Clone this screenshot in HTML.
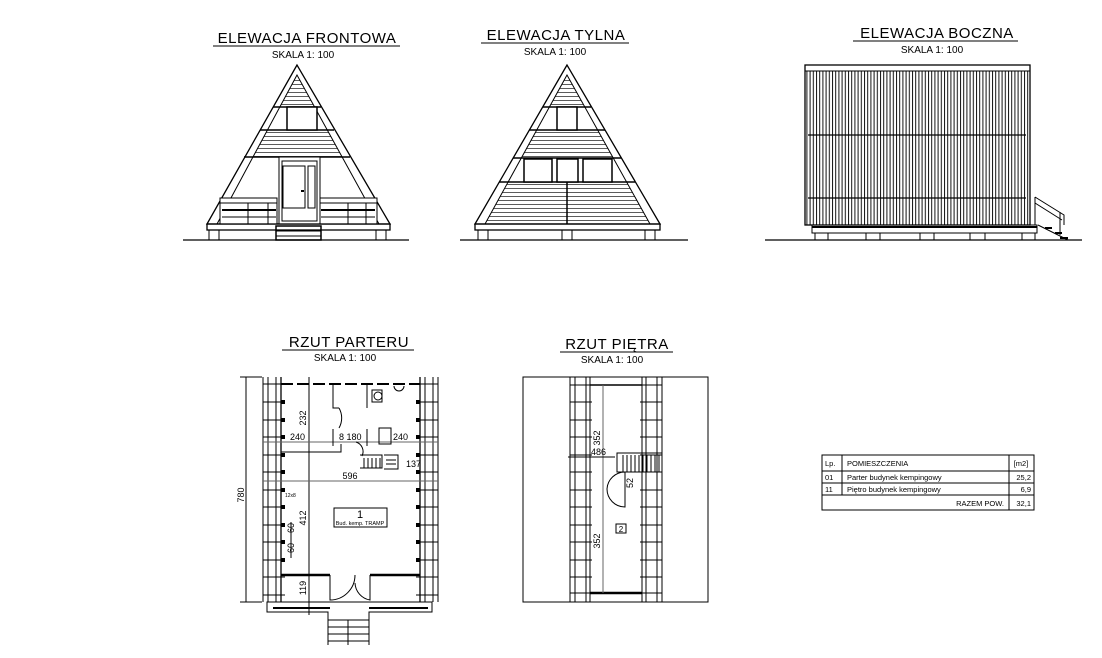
<!DOCTYPE html>
<html><head><meta charset="utf-8"><style>
html,body{margin:0;padding:0;background:#fff;}
svg{display:block;}
text{font-family:"Liberation Sans",sans-serif;fill:#000;}
.t{font-size:15px;letter-spacing:0.5px;}
.s{font-size:10px;}
.d{font-size:9px;}
</style></head><body>
<svg width="1102" height="658" viewBox="0 0 1102 658" xmlns="http://www.w3.org/2000/svg">
<defs>
<pattern id="hz" width="10" height="4" patternUnits="userSpaceOnUse"><rect width="10" height="4" fill="#fff"/><line x1="0" y1="0.5" x2="10" y2="0.5" stroke="#333" stroke-width="0.8"/></pattern>
<pattern id="vt" width="3.2" height="10" patternUnits="userSpaceOnUse"><rect width="3.2" height="10" fill="#fff"/><line x1="0.5" y1="0" x2="0.5" y2="10" stroke="#111" stroke-width="1"/></pattern>
<clipPath id="c1"><polygon points="297,75 217,224 379,224"/></clipPath>
<clipPath id="c2"><polygon points="567,75 485,224 650,224"/></clipPath>
</defs>
<g fill="none" stroke="#000" stroke-width="1">

<!-- FRONT ELEVATION -->
<text class="t" x="307" y="43" text-anchor="middle" stroke="none">ELEWACJA  FRONTOWA</text>
<line x1="213" y1="46" x2="400" y2="46"/>
<text class="s" x="303" y="58" text-anchor="middle" stroke="none">SKALA  1: 100</text>
<g clip-path="url(#c1)">
<rect x="200" y="78" width="200" height="29" fill="url(#hz)" stroke="none"/>
<rect x="200" y="130" width="200" height="27" fill="url(#hz)" stroke="none"/>
</g>
<polygon points="297,65 207,224 390,224" stroke-width="1.3"/>
<polygon points="297,75 217,224 379,224"/>
<line x1="273" y1="107" x2="321" y2="107" stroke-width="1.5"/>
<line x1="260" y1="130" x2="334" y2="130" stroke-width="1.5"/>
<line x1="244" y1="157" x2="350" y2="157" stroke-width="1.5"/>
<rect x="287" y="107" width="30" height="23" fill="#fff" stroke-width="1.5"/>
<rect x="279" y="157" width="41" height="67" fill="#fff"/>
<rect x="282" y="161" width="35" height="60"/>
<rect x="283" y="166" width="22" height="42"/>
<rect x="308" y="166" width="7" height="42"/>
<line x1="301" y1="191" x2="304" y2="191" stroke-width="2"/>
<rect x="220" y="198" width="57" height="26" fill="#fff"/>
<line x1="220" y1="203" x2="277" y2="203"/><line x1="222" y1="210" x2="276" y2="210" stroke-width="2"/><line x1="222" y1="217" x2="276" y2="217"/>
<line x1="248" y1="203" x2="248" y2="224"/><line x1="268" y1="203" x2="268" y2="224"/>
<rect x="320" y="198" width="57" height="26" fill="#fff"/>
<line x1="320" y1="203" x2="377" y2="203"/><line x1="321" y1="210" x2="375" y2="210" stroke-width="2"/><line x1="321" y1="217" x2="375" y2="217"/>
<line x1="348" y1="203" x2="348" y2="224"/><line x1="366" y1="203" x2="366" y2="224"/>
<rect x="207" y="224" width="183" height="6" stroke-width="1.3"/>
<rect x="209" y="230" width="10" height="10"/><rect x="376" y="230" width="10" height="10"/>
<rect x="276" y="226" width="45" height="14" stroke-width="1.5"/>
<line x1="276" y1="231" x2="321" y2="231"/><line x1="276" y1="236" x2="321" y2="236"/>
<line x1="183" y1="240" x2="409" y2="240" stroke-width="1.3"/>

<!-- REAR ELEVATION -->
<text class="t" x="556" y="40" text-anchor="middle" stroke="none">ELEWACJA  TYLNA</text>
<line x1="481" y1="43" x2="629" y2="43"/>
<text class="s" x="555" y="55" text-anchor="middle" stroke="none">SKALA  1: 100</text>
<g clip-path="url(#c2)">
<rect x="470" y="78" width="200" height="29" fill="url(#hz)" stroke="none"/>
<rect x="470" y="130" width="200" height="28" fill="url(#hz)" stroke="none"/>
<rect x="470" y="182" width="200" height="42" fill="url(#hz)" stroke="none"/>
</g>
<polygon points="567,65 475,224 660,224" stroke-width="1.3"/>
<polygon points="567,75 485,224 650,224"/>
<line x1="543" y1="107" x2="591" y2="107" stroke-width="1.5"/>
<line x1="529" y1="130" x2="605" y2="130" stroke-width="1.5"/>
<line x1="513" y1="158" x2="621" y2="158" stroke-width="1.5"/>
<line x1="499" y1="182" x2="635" y2="182" stroke-width="1.5"/>
<rect x="557" y="107" width="20" height="23" fill="#fff" stroke-width="1.5"/>
<rect x="524" y="159" width="28" height="23" fill="#fff" stroke-width="1.5"/>
<rect x="557" y="159" width="21" height="23" fill="#fff" stroke-width="1.5"/>
<rect x="583" y="159" width="29" height="23" fill="#fff" stroke-width="1.5"/>
<line x1="567" y1="182" x2="567" y2="224" stroke-width="1.5"/>
<rect x="475" y="224" width="185" height="6" stroke-width="1.3"/>
<rect x="478" y="230" width="10" height="10"/><rect x="562" y="230" width="10" height="10"/><rect x="645" y="230" width="10" height="10"/>
<line x1="460" y1="240" x2="688" y2="240" stroke-width="1.3"/>

<!-- SIDE ELEVATION -->
<text class="t" x="937" y="38" text-anchor="middle" stroke="none">ELEWACJA  BOCZNA</text>
<line x1="853" y1="41" x2="1018" y2="41"/>
<text class="s" x="932" y="53" text-anchor="middle" stroke="none">SKALA  1: 100</text>
<rect x="806" y="71" width="223" height="154" fill="url(#vt)" stroke="none"/>
<rect x="805" y="65" width="225" height="160" stroke-width="1.3"/>
<line x1="805" y1="71" x2="1030" y2="71"/>
<line x1="808" y1="135" x2="1026" y2="135" stroke-width="1.3"/>
<line x1="808" y1="198" x2="1026" y2="198" stroke-width="1.3"/>
<rect x="812" y="225" width="225" height="8"/>
<line x1="812" y1="227" x2="1037" y2="227" stroke-width="2"/>
<rect x="815" y="233" width="220" height="7"/>
<line x1="828" y1="233" x2="828" y2="240"/><line x1="866" y1="233" x2="866" y2="240"/><line x1="880" y1="233" x2="880" y2="240"/><line x1="920" y1="233" x2="920" y2="240"/><line x1="934" y1="233" x2="934" y2="240"/><line x1="970" y1="233" x2="970" y2="240"/><line x1="985" y1="233" x2="985" y2="240"/><line x1="1022" y1="233" x2="1022" y2="240"/>
<polyline points="1035,197 1064,215 1064,225"/><polyline points="1035,203 1062,220"/><line x1="1035" y1="197" x2="1035" y2="225"/>
<line x1="1060" y1="212" x2="1060" y2="235"/>
<polyline points="1038,225 1068,240"/>
<line x1="1045" y1="228" x2="1052" y2="228" stroke-width="2"/><line x1="1055" y1="233" x2="1062" y2="233" stroke-width="2"/><line x1="1060" y1="238" x2="1068" y2="238" stroke-width="2"/>
<line x1="765" y1="240" x2="1082" y2="240" stroke-width="1.3"/>

<!-- RZUT PARTERU -->
<text class="t" x="349" y="347" text-anchor="middle" stroke="none">RZUT  PARTERU</text>
<line x1="282" y1="350" x2="414" y2="350"/>
<text class="s" x="345" y="361" text-anchor="middle" stroke="none">SKALA  1: 100</text>
<line x1="263" y1="377" x2="263" y2="602"/><line x1="268" y1="377" x2="268" y2="602"/><line x1="276" y1="377" x2="276" y2="602"/><line x1="281" y1="377" x2="281" y2="602" stroke-width="1.3"/>
<line x1="420" y1="377" x2="420" y2="602" stroke-width="1.3"/><line x1="425" y1="377" x2="425" y2="602"/><line x1="433" y1="377" x2="433" y2="602"/><line x1="438" y1="377" x2="438" y2="602"/>
<g stroke-width="1">
<path d="M263 384H285M263 402H285M263 420H285M263 437H285M263 455H285M263 472H285M263 490H285M263 507H285M263 525H285M263 542H285M263 560H285M263 577H285M263 595H285"/>
<path d="M416 384H438M416 402H438M416 420H438M416 437H438M416 455H438M416 472H438M416 490H438M416 507H438M416 525H438M416 542H438M416 560H438M416 577H438M416 595H438"/>
</g>
<g fill="#000" stroke="none">
<rect x="281" y="400" width="4" height="4"/><rect x="281" y="418" width="4" height="4"/><rect x="281" y="435" width="4" height="4"/><rect x="281" y="453" width="4" height="4"/><rect x="281" y="470" width="4" height="4"/><rect x="281" y="488" width="4" height="4"/><rect x="281" y="505" width="4" height="4"/><rect x="281" y="523" width="4" height="4"/><rect x="281" y="540" width="4" height="4"/><rect x="281" y="558" width="4" height="4"/>
<rect x="416" y="400" width="4" height="4"/><rect x="416" y="418" width="4" height="4"/><rect x="416" y="435" width="4" height="4"/><rect x="416" y="453" width="4" height="4"/><rect x="416" y="470" width="4" height="4"/><rect x="416" y="488" width="4" height="4"/><rect x="416" y="505" width="4" height="4"/><rect x="416" y="523" width="4" height="4"/><rect x="416" y="540" width="4" height="4"/><rect x="416" y="558" width="4" height="4"/>
</g>
<line x1="281" y1="384" x2="420" y2="384" stroke-width="2" stroke-dasharray="12,4"/>
<line x1="246" y1="377" x2="246" y2="602"/><line x1="240" y1="377" x2="262" y2="377"/><line x1="240" y1="602" x2="262" y2="602"/>
<text class="d" transform="translate(244,495) rotate(-90)" text-anchor="middle" stroke="none">780</text>
<line x1="309" y1="377" x2="309" y2="615"/>
<text class="d" transform="translate(306,418) rotate(-90)" text-anchor="middle" stroke="none">232</text>
<text class="d" transform="translate(306,518) rotate(-90)" text-anchor="middle" stroke="none">412</text>
<text class="d" transform="translate(306,588) rotate(-90)" text-anchor="middle" stroke="none">119</text>
<line x1="263" y1="442" x2="438" y2="442" stroke="#666"/>
<line x1="263" y1="481" x2="438" y2="481" stroke="#666"/>
<text class="d" x="290" y="440" stroke="none">240</text>
<text class="d" x="393" y="440" stroke="none">240</text>
<text class="d" x="350" y="479" text-anchor="middle" stroke="none">596</text>
<text class="d" x="406" y="467" stroke="none">137</text>
<text class="d" x="339" y="440" stroke="none">8 180</text>
<polyline points="281,452 341,452 341,444"/>
<polyline points="333,384 333,408 339,408"/><line x1="333" y1="429" x2="333" y2="446"/>
<path d="M339 408 A20 20 0 0 1 339 428"/>
<line x1="367" y1="384" x2="367" y2="408"/><line x1="367" y1="429" x2="367" y2="446"/>
<rect x="372" y="390" width="10" height="12"/><circle cx="378" cy="396" r="4"/>
<path d="M394 386 a5 5 0 0 0 10 0"/>
<rect x="379" y="428" width="12" height="16"/>
<path d="M356 442 a10 10 0 0 1 6 14"/>
<path d="M360 455H382V468H360M364 458V468M368 458V468M372 458V468M376 458V468M380 458V468"/>
<path d="M384 455H398V469H384M386 460H396M386 464H396"/>
<rect x="334" y="508" width="53" height="19"/>
<text x="360" y="518" font-size="11" text-anchor="middle" stroke="none">1</text>
<text x="360" y="525" font-size="5.5" text-anchor="middle" stroke="none">Bud. kemp. TRAMP</text>
<text font-size="5" x="285" y="497" stroke="none">12x8</text>
<text class="d" transform="translate(294,533) rotate(-90)" stroke="none">60</text>
<text class="d" transform="translate(294,553) rotate(-90)" stroke="none">60</text>
<line x1="291" y1="522" x2="291" y2="558"/>
<line x1="281" y1="575" x2="330" y2="575" stroke-width="2.5"/>
<line x1="370" y1="575" x2="420" y2="575" stroke-width="2.5"/>
<path d="M330 575 V600 A25 25 0 0 0 355 575"/>
<path d="M370 575 V600 A18 18 0 0 1 355 583"/>
<polyline points="328,645 328,612 267,612 267,602 432,602 432,612 369,612 369,645"/>
<line x1="273" y1="608" x2="330" y2="608" stroke-width="2"/>
<line x1="369" y1="608" x2="428" y2="608" stroke-width="2"/>
<path d="M328 620H369M328 627H369M328 634H369M328 641H369"/>
<line x1="348" y1="620" x2="348" y2="645"/>

<!-- RZUT PIETRA -->
<text class="t" x="617" y="349" text-anchor="middle" stroke="none">RZUT  PIĘTRA</text>
<line x1="560" y1="352" x2="673" y2="352"/>
<text class="s" x="612" y="363" text-anchor="middle" stroke="none">SKALA  1: 100</text>
<rect x="523" y="377" width="185" height="225"/>
<line x1="570" y1="377" x2="570" y2="602"/><line x1="575" y1="377" x2="575" y2="602"/><line x1="586" y1="377" x2="586" y2="602"/><line x1="590" y1="377" x2="590" y2="602"/>
<line x1="642" y1="377" x2="642" y2="602"/><line x1="646" y1="377" x2="646" y2="602"/><line x1="657" y1="377" x2="657" y2="602"/><line x1="662" y1="377" x2="662" y2="602"/>
<path d="M570 385H592M570 402H592M570 420H592M570 437H592M570 455H592M570 472H592M570 490H592M570 507H592M570 525H592M570 542H592M570 560H592M570 577H592M570 593H592"/>
<path d="M640 385H662M640 402H662M640 420H662M640 437H662M640 455H662M640 472H662M640 490H662M640 507H662M640 525H662M640 542H662M640 560H662M640 577H662M640 593H662"/>
<line x1="590" y1="385" x2="642" y2="385" stroke-width="1.5"/>
<line x1="590" y1="593" x2="642" y2="593" stroke-width="2.5"/>
<line x1="603" y1="385" x2="603" y2="593" stroke="#666"/>
<text class="d" transform="translate(600,438) rotate(-90)" text-anchor="middle" stroke="none">352</text>
<text class="d" transform="translate(600,541) rotate(-90)" text-anchor="middle" stroke="none">352</text>
<line x1="568" y1="457" x2="615" y2="457"/>
<text class="d" x="591" y="455" stroke="none">486</text>
<rect x="617" y="453" width="45" height="19"/>
<path d="M623 455V472M627 455V472M631 455V472M635 455V472M639 455V472M643 455V472M647 455V472M651 455V472M655 455V472M659 455V472"/>
<path d="M625 472V507 A18 18 0 0 1 607 489 A18 18 0 0 1 625 472"/>
<text class="d" transform="translate(633,488) rotate(-90)" stroke="none">52</text>
<rect x="616" y="524" width="10" height="9"/>
<text x="621" y="532" font-size="8" text-anchor="middle" stroke="none">2</text>

<!-- TABLE -->
<rect x="822" y="455" width="212" height="55"/>
<line x1="822" y1="471" x2="1034" y2="471"/>
<line x1="822" y1="483" x2="1034" y2="483"/>
<line x1="822" y1="495" x2="1034" y2="495"/>
<line x1="842" y1="455" x2="842" y2="495"/>
<line x1="1009" y1="455" x2="1009" y2="510"/>
</g>
<g font-size="7.5">
<text x="825" y="466">Lp.</text>
<text x="847" y="466">POMIESZCZENIA</text>
<text x="1021" y="466" text-anchor="middle">[m2]</text>
<text x="825" y="480">01</text>
<text x="847" y="480">Parter  budynek  kempingowy</text>
<text x="1031" y="480" text-anchor="end">25,2</text>
<text x="825" y="492">11</text>
<text x="847" y="492">Piętro  budynek  kempingowy</text>
<text x="1031" y="492" text-anchor="end">6,9</text>
<text x="1004" y="506" text-anchor="end">RAZEM  POW.</text>
<text x="1031" y="506" text-anchor="end">32,1</text>
</g>
</svg>
</body></html>
